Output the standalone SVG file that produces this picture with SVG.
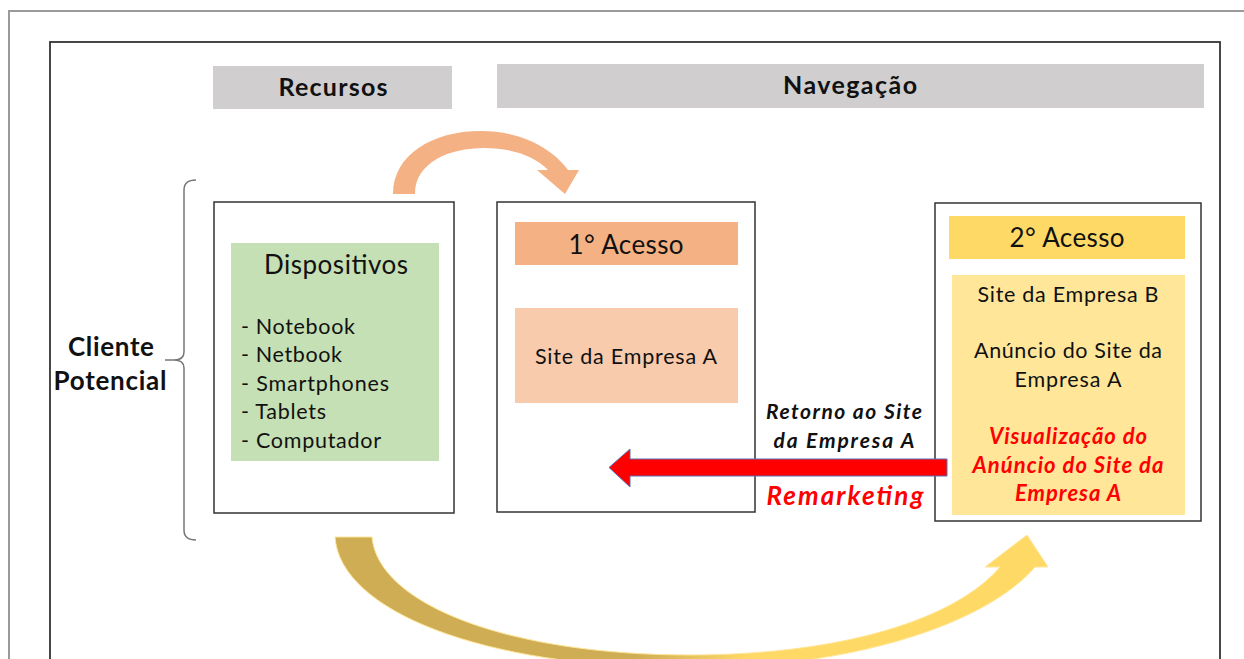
<svg xmlns="http://www.w3.org/2000/svg" width="1244" height="659" viewBox="0 0 1244 659">
<style>
.frame{fill:none;stroke:#333;stroke-width:1.5}
.t{font-family:Lato,"Liberation Sans",sans-serif;fill:#111}
.b{font-weight:bold}
.bi{font-weight:bold;font-style:italic}
.red{fill:#ff0000}
.hdr{fill:#d0cece}
</style>
<defs>
<linearGradient id="gold" x1="335" y1="0" x2="1048" y2="0" gradientUnits="userSpaceOnUse">
<stop offset="0" stop-color="#cfad55"/>
<stop offset="0.42" stop-color="#cfad55"/>
<stop offset="0.58" stop-color="#ffd966"/>
<stop offset="1" stop-color="#ffd966"/>
</linearGradient>
</defs>
<rect width="1244" height="659" fill="#fff"/>
<path d="M9,659 V11 H1244" fill="none" stroke="#9a9a9a" stroke-width="2"/>
<rect x="50" y="42" width="1170" height="700" fill="none" stroke="#333" stroke-width="1.8"/>

<g id="header-recursos">
<rect class="hdr" x="213" y="66" width="239" height="43"/>
<text class="t b" x="333" y="96" font-size="25" text-anchor="middle" textLength="109">Recursos</text>
</g>
<g id="header-navegacao">
<rect class="hdr" x="497" y="64" width="707" height="44"/>
<text class="t b" x="850" y="94" font-size="25" text-anchor="middle" textLength="134">Navegação</text>
</g>

<g id="cliente">
<text class="t b" x="111" y="356" font-size="26" text-anchor="middle" textLength="86">Cliente</text>
<text class="t b" x="110" y="390" font-size="26" text-anchor="middle" textLength="113">Potencial</text>
<path d="M196,180 Q184,180 184,190 V352 Q184,360 174,360 H165 M174,360 Q184,360 184,368 V530 Q184,540 196,540" fill="none" stroke="#777" stroke-width="1.5"/>
</g>

<g id="recursos-box">
<rect class="frame" x="214" y="202" width="240" height="311" fill="#fff"/>
<rect x="231" y="243" width="208" height="218" fill="#c5e0b4"/>
<text class="t" x="336" y="274" font-size="26" text-anchor="middle" textLength="144">Dispositivos</text>
<text class="t" x="241" y="334" font-size="21.5" textLength="114">- Notebook</text>
<text class="t" x="241" y="362" font-size="21.5" textLength="101">- Netbook</text>
<text class="t" x="241" y="391" font-size="21.5" textLength="148">- Smartphones</text>
<text class="t" x="241" y="419" font-size="21.5" textLength="85">- Tablets</text>
<text class="t" x="241" y="448" font-size="21.5" textLength="140">- Computador</text>
</g>

<g id="acesso1-box">
<rect class="frame" x="497" y="202" width="258" height="310" fill="#fff"/>
<rect x="515" y="222" width="223" height="43" fill="#f4b183"/>
<text class="t" x="626" y="254" font-size="26" text-anchor="middle" textLength="115">1° Acesso</text>
<rect x="515" y="308" width="223" height="95" fill="#f8cbad"/>
<text class="t" x="626" y="364" font-size="21.5" text-anchor="middle" textLength="182">Site da Empresa A</text>
</g>

<g id="acesso2-box">
<rect class="frame" x="935" y="203" width="266" height="318" fill="#fff"/>
<rect x="949" y="216" width="236" height="43" fill="#ffd966"/>
<text class="t" x="1067" y="247" font-size="26" text-anchor="middle" textLength="115">2° Acesso</text>
<rect x="952" y="275" width="233" height="240" fill="#ffe699"/>
<text class="t" x="1068" y="302" font-size="21.5" text-anchor="middle" textLength="181">Site da Empresa B</text>
<text class="t" x="1068" y="358" font-size="21.5" text-anchor="middle" textLength="188">Anúncio do Site da</text>
<text class="t" x="1068" y="387" font-size="21.5" text-anchor="middle" textLength="107">Empresa A</text>
<text class="t bi red" x="1068" y="444" font-size="22" text-anchor="middle" textLength="158">Visualização do</text>
<text class="t bi red" x="1068" y="473" font-size="22" text-anchor="middle" textLength="191">Anúncio do Site da</text>
<text class="t bi red" x="1068" y="501" font-size="22" text-anchor="middle" textLength="106">Empresa A</text>
</g>

<g id="connectors">
<path d="M393,194 C393,155 432,131 481,131 C520,131 552,148 568,170 L579,170 L565,194 L537,170 L548,170 C535,156 512,148 484,148 C450,148 415,162 415,194 Z" fill="#f4b183"/>
<path d="M335,537 C340,610 480,668 690,668 C850,668 985,625 1035,567 L1048,567 L1027,535 L985,567 L1000,567 C955,620 840,655 690,655 C510,655 378,605 372,537 Z" fill="url(#gold)" stroke="#ffe699" stroke-width="1"/>
<path d="M947,459 H630 V449 L609,467.5 L630,487 V476 H947 Z" fill="#ff0000" stroke="#5a6fb0" stroke-width="1"/>
<text class="t bi" x="844" y="419" font-size="21" text-anchor="middle" textLength="156">Retorno ao Site</text>
<text class="t bi" x="844" y="448" font-size="21" text-anchor="middle" textLength="141">da Empresa A</text>
<text class="t bi red" x="845" y="505" font-size="26" text-anchor="middle" textLength="157">Remarketing</text>
</g>
</svg>
